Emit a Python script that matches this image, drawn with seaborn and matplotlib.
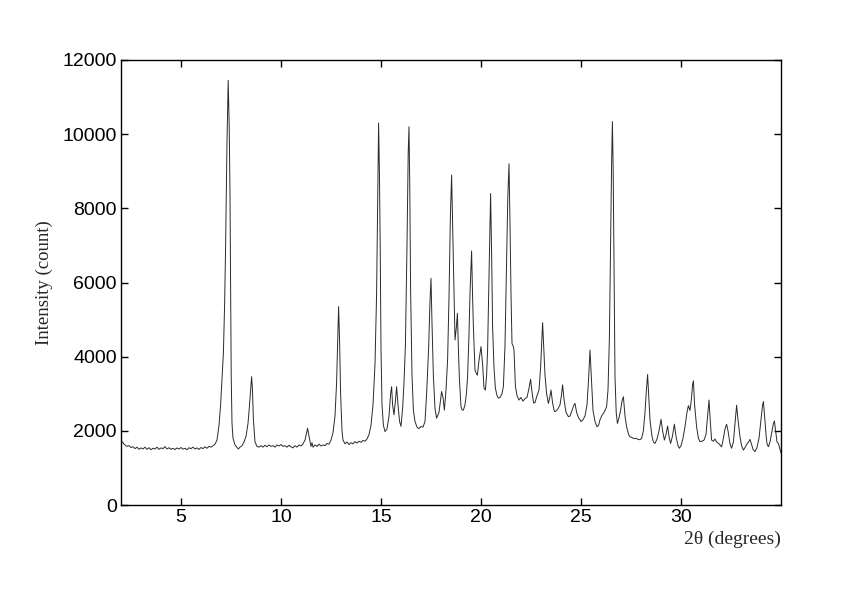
import matplotlib
matplotlib.use("Agg")
import matplotlib.pyplot as plt
import seaborn as sns
import pandas as pd

two_theta = [
    2.00, 2.05, 2.10, 2.15, 2.20, 2.30, 2.40, 2.50, 2.60, 2.70, 2.80, 2.90, 3.00, 3.10, 3.20,
    3.30, 3.40, 3.50, 3.60, 3.70, 3.80, 3.90, 4.00, 4.10, 4.20, 4.30, 4.40, 4.50, 4.60, 4.70,
    4.80, 4.90, 5.00, 5.10, 5.20, 5.30, 5.40, 5.50, 5.60, 5.70, 5.80, 5.90, 6.00, 6.10, 6.20,
    6.30, 6.40, 6.50, 6.60, 6.70, 6.80, 6.90, 6.98, 7.05, 7.12, 7.18, 7.23, 7.30, 7.36, 7.41,
    7.45, 7.48, 7.51, 7.55, 7.60, 7.70, 7.80, 7.87, 7.95, 8.05, 8.15, 8.25, 8.35, 8.42, 8.48,
    8.53, 8.57, 8.62, 8.70, 8.80, 8.90, 9.00, 9.10, 9.20, 9.30, 9.40, 9.50, 9.60, 9.70, 9.80,
    9.90, 10.00, 10.10, 10.20, 10.30, 10.40, 10.50, 10.60, 10.70, 10.80, 10.90, 11.00, 11.10,
    11.20, 11.33, 11.42, 11.50, 11.55, 11.60, 11.70, 11.80, 11.90, 12.00, 12.10, 12.20, 12.30,
    12.40, 12.50, 12.60, 12.70, 12.78, 12.83, 12.88, 12.93, 12.98, 13.05, 13.10, 13.20, 13.30,
    13.40, 13.50, 13.60, 13.70, 13.80, 13.90, 14.00, 14.10, 14.20, 14.30, 14.40, 14.50, 14.60,
    14.70, 14.78, 14.84, 14.88, 14.92, 14.96, 15.00, 15.05, 15.12, 15.20, 15.30, 15.40, 15.48,
    15.53, 15.58, 15.65, 15.72, 15.78, 15.85, 15.93, 16.00, 16.08, 16.15, 16.22, 16.30, 16.36,
    16.40, 16.44, 16.48, 16.55, 16.62, 16.70, 16.80, 16.90, 17.00, 17.10, 17.20, 17.28, 17.38,
    17.45, 17.50, 17.55, 17.62, 17.70, 17.78, 17.90, 18.03, 18.10, 18.17, 18.25, 18.33, 18.40,
    18.47, 18.53, 18.58, 18.62, 18.70, 18.77, 18.82, 18.87, 18.92, 19.00, 19.06, 19.12, 19.20,
    19.27, 19.33, 19.40, 19.45, 19.53, 19.58, 19.62, 19.70, 19.76, 19.82, 19.90, 20.00, 20.08,
    20.15, 20.22, 20.28, 20.33, 20.40, 20.48, 20.53, 20.58, 20.65, 20.72, 20.80, 20.87, 20.95,
    21.05, 21.12, 21.20, 21.28, 21.34, 21.40, 21.45, 21.50, 21.55, 21.60, 21.65, 21.72, 21.80,
    21.90, 22.00, 22.10, 22.20, 22.30, 22.40, 22.48, 22.55, 22.63, 22.70, 22.80, 22.90, 22.98,
    23.05, 23.08, 23.13, 23.20, 23.28, 23.37, 23.44, 23.50, 23.58, 23.67, 23.75, 23.85, 23.95,
    24.02, 24.08, 24.15, 24.25, 24.37, 24.45, 24.55, 24.65, 24.70, 24.78, 24.88, 24.95, 25.00,
    25.10, 25.20, 25.30, 25.38, 25.45, 25.52, 25.60, 25.70, 25.80, 25.88, 25.95, 26.05, 26.12,
    26.20, 26.28, 26.35, 26.42, 26.48, 26.53, 26.57, 26.61, 26.65, 26.70, 26.76, 26.82, 26.90,
    26.98, 27.05, 27.12, 27.20, 27.28, 27.38, 27.45, 27.55, 27.65, 27.75, 27.85, 27.95, 28.03,
    28.12, 28.20, 28.27, 28.33, 28.38, 28.45, 28.55, 28.62, 28.70, 28.80, 28.90, 29.00, 29.08,
    29.17, 29.25, 29.33, 29.40, 29.48, 29.57, 29.67, 29.75, 29.85, 29.92, 30.00, 30.10, 30.20,
    30.30, 30.37, 30.45, 30.52, 30.58, 30.62, 30.68, 30.78, 30.87, 30.95, 31.05, 31.15, 31.25,
    31.33, 31.40, 31.46, 31.53, 31.62, 31.70, 31.78, 31.90, 32.03, 32.12, 32.20, 32.28, 32.35,
    32.45, 32.53, 32.62, 32.70, 32.78, 32.85, 32.95, 33.03, 33.12, 33.20, 33.30, 33.38, 33.45,
    33.52, 33.60, 33.70, 33.80, 33.90, 34.00, 34.08, 34.12, 34.18, 34.25, 34.30, 34.37, 34.45,
    34.55, 34.62, 34.67, 34.73, 34.80, 34.87, 34.95, 35.00,
]
intensity = [
    1780, 1700, 1690, 1640, 1620, 1580, 1600, 1550, 1570, 1520, 1560, 1500, 1540, 1510, 1560,
    1500, 1545, 1490, 1530, 1510, 1560, 1500, 1540, 1520, 1575, 1510, 1545, 1500, 1530, 1495,
    1540, 1510, 1550, 1505, 1530, 1490, 1545, 1520, 1560, 1510, 1540, 1500, 1550, 1520, 1570,
    1530, 1580, 1560, 1600, 1640, 1750, 2150, 2700, 3400, 4100, 5400, 6970, 9800, 11450, 10200,
    8400, 5800, 3500, 2200, 1800, 1620, 1550, 1510, 1560, 1600, 1700, 1850, 2200, 2650, 3100,
    3460, 3150, 2300, 1700, 1580, 1560, 1600, 1560, 1610, 1570, 1620, 1580, 1600, 1560, 1620,
    1590, 1630, 1580, 1600, 1560, 1610, 1570, 1540, 1600, 1560, 1620, 1590, 1650,
    1750, 2070, 1800, 1580, 1680, 1560, 1620, 1580, 1640, 1590, 1620, 1600, 1660,
    1640, 1750, 1950, 2400, 3300, 4300, 5350, 4400, 3000, 2000, 1750, 1650, 1700,
    1630, 1680, 1650, 1710, 1670, 1720, 1690, 1740, 1720, 1780, 1900, 2150, 2700,
    3800, 5700, 8500, 10300, 9000, 7000, 4200, 2700, 2150, 1980, 2050, 2400, 3000,
    3190, 2700, 2430, 2800, 3190, 2700, 2250, 2120, 2600, 3300, 4300, 7000, 9500,
    10200, 8500, 5800, 3500, 2560, 2250, 2100, 2060, 2120, 2100, 2250, 3000, 4200,
    5500, 6110, 4900, 3460, 2600, 2340, 2500, 3060, 2900, 2560, 3100, 3910, 5600,
    7800, 8900, 7600, 6600, 4450, 4800, 5170, 4200, 3400, 2650, 2560, 2560, 2700,
    3000, 3460, 4600, 5710, 6850, 5600, 4800, 3640, 3560, 3500, 3900, 4270, 3800,
    3150, 3100, 3500, 4180, 6200, 8400, 6800, 4800, 3700, 3150, 2950, 2880, 2900,
    3000, 3200, 4300, 6600, 8300, 9200, 7600, 5700, 4350, 4300, 4180, 3200, 2950,
    2830, 2900, 2800, 2870, 2900, 3150, 3390, 3050, 2750, 2760, 2950, 3100, 3700,
    4600, 4920, 4300, 3500, 3000, 2740, 2900, 3100, 2750, 2520, 2530, 2600, 2700,
    2950, 3240, 2850, 2500, 2380, 2400, 2550, 2700, 2740, 2500, 2350, 2300, 2250,
    2300, 2400, 2700, 3400, 4180, 3400, 2550, 2250, 2110, 2150, 2300, 2420, 2470,
    2550, 2650, 3100, 4500, 7000, 9200, 10340, 9000, 6600, 3460, 2500, 2200, 2350,
    2550, 2800, 2920, 2400, 2110, 1900, 1840, 1820, 1790, 1800, 1770, 1760, 1800,
    2000, 2500, 3100, 3520, 3000, 2290, 1850, 1700, 1660, 1780, 2000, 2310, 2000,
    1750, 1900, 2130, 1850, 1660, 1850, 2180, 1850, 1600, 1530, 1600, 1800, 2110,
    2500, 2680, 2550, 2850, 3250, 3350, 2700, 2110, 1800, 1710, 1720, 1750, 1900,
    2400, 2830, 2300, 1750, 1720, 1780, 1700, 1650, 1570, 1800, 2050, 2176, 2000,
    1650, 1530, 1700, 2200, 2690, 2300, 1840, 1600, 1480, 1550, 1650, 1700, 1770,
    1650, 1500, 1440, 1550, 1800, 2300, 2700, 2790, 2400, 1900, 1650, 1570, 1700,
    2000, 2200, 2265, 2000, 1700, 1660, 1500, 1400,
]
x_ticks = [5, 10, 15, 20, 25, 30]
y_ticks = [0, 2000, 4000, 6000, 8000, 10000, 12000]

df = pd.DataFrame({"two_theta": two_theta, "intensity": intensity})

sns.set_theme(style="ticks")
plt.rcParams["font.family"] = ["Liberation Sans", "DejaVu Sans"]

fig = plt.figure(figsize=(8.42, 5.95), dpi=100)
ax = fig.add_axes([121 / 842, 1 - 505 / 595, 660 / 842, 445 / 595])

sns.lineplot(data=df, x="two_theta", y="intensity", ax=ax, estimator=None,
             color="#2a2a2a", linewidth=0.7)

ax.set_xlim(2, 35)
ax.set_ylim(0, 12000)
ax.set_xticks(x_ticks)
ax.set_yticks(y_ticks)
ax.tick_params(direction="in", length=5, width=1, top=True, right=True,
               labelsize=14, colors="black", pad=3)
for s in ax.spines.values():
    s.set_visible(True)
    s.set_linewidth(1.0)
    s.set_color("black")

serif = ["Liberation Serif", "DejaVu Serif"]
ax.set_xlabel("2θ (degrees)", family=serif, fontsize=14, ha="right")
ax.xaxis.set_label_coords(1.0, -0.058)
ax.set_ylabel("Intensity (count)", family=serif, fontsize=13.5)
ax.yaxis.set_label_coords(-0.103, 0.5)

fig.savefig("out.png", dpi=100)
